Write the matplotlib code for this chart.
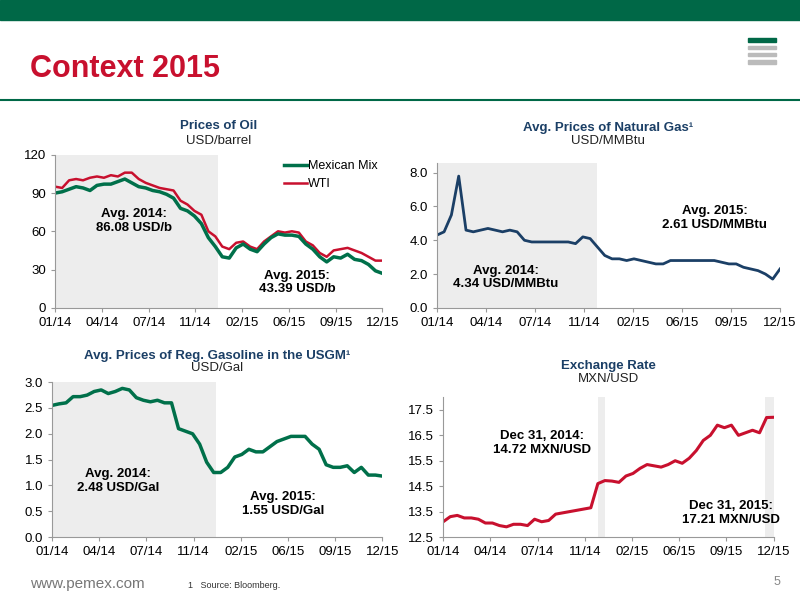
import matplotlib
matplotlib.use("Agg")
import matplotlib.pyplot as plt
import numpy as np

plt.rcParams['font.family'] = ['Liberation Sans', 'DejaVu Sans']

tick_labels = ["01/14", "04/14", "07/14", "11/14", "02/15", "06/15", "09/15", "12/15"]

mexican_mix = [90, 91, 93, 95, 94, 92, 96, 97, 97, 99, 101, 98, 95, 94, 92, 91, 89, 86, 78, 76, 72, 66, 55, 48,
               40, 39, 47, 50, 46, 44, 50, 55, 58, 57, 57, 56, 50, 46, 40, 36, 40, 39, 42, 38, 37, 34, 29, 27]
wti = [95, 94, 100, 101, 100, 102, 103, 102, 104, 103, 106, 106, 101, 98, 96, 94, 93, 92, 84, 81, 76, 73, 60, 56,
       48, 46, 51, 52, 48, 46, 52, 56, 60, 59, 60, 59, 52, 49, 43, 40, 45, 46, 47, 45, 43, 40, 37, 37]
natural_gas = [4.3, 4.5, 5.5, 7.8, 4.6, 4.5, 4.6, 4.7, 4.6, 4.5, 4.6, 4.5, 4.0, 3.9, 3.9, 3.9, 3.9, 3.9, 3.9, 3.8,
               4.2, 4.1, 3.6, 3.1, 2.9, 2.9, 2.8, 2.9, 2.8, 2.7, 2.6, 2.6, 2.8, 2.8, 2.8, 2.8, 2.8, 2.8, 2.8, 2.7,
               2.6, 2.6, 2.4, 2.3, 2.2, 2.0, 1.7, 2.3]
gasoline = [2.55, 2.58, 2.6, 2.72, 2.72, 2.75, 2.82, 2.85, 2.78, 2.82, 2.88, 2.85, 2.70, 2.65, 2.62, 2.65, 2.60, 2.6,
            2.1, 2.05, 2.0, 1.8, 1.45, 1.25, 1.25, 1.35, 1.55, 1.6, 1.7, 1.65, 1.65, 1.75, 1.85, 1.9, 1.95, 1.95,
            1.95, 1.8, 1.7, 1.4, 1.35, 1.35, 1.38, 1.25, 1.35, 1.2, 1.2, 1.18]
exchange = [13.1, 13.3, 13.35, 13.25, 13.25, 13.2, 13.05, 13.05, 12.95, 12.9, 13.0, 13.0, 12.95, 13.2, 13.1, 13.15,
            13.4, 13.45, 13.5, 13.55, 13.6, 13.65, 14.6, 14.72, 14.7, 14.65, 14.9, 15.0, 15.2, 15.35, 15.3, 15.25,
            15.35, 15.5, 15.4, 15.6, 15.9, 16.3, 16.5, 16.9, 16.8, 16.9, 16.5, 16.6, 16.7, 16.6, 17.2, 17.21]

GREEN = "#00704A"
RED = "#C8102E"
NAVY = "#1B3F66"
SHADE = "#EDEDED"

n = len(mexican_mix)
x = np.linspace(0, 23.3, n)
ticks = np.linspace(0, 23.3, 8)

fig = plt.figure(figsize=(8, 6), dpi=100)
fig.patches.append(plt.Rectangle((0, 0.967), 1, 0.033, transform=fig.transFigure, color="#006847"))
fig.add_artist(plt.Line2D([0, 1], [0.833, 0.833], color="#006847", lw=1.5, transform=fig.transFigure))
fig.text(0.037, 0.872, "Context 2015", color=RED, fontsize=22, fontweight="bold")
fig.text(0.037, 0.02, "www.pemex.com", color="#777777", fontsize=11)
fig.text(0.235, 0.02, "1   Source: Bloomberg.", color="#333333", fontsize=6.5)
fig.text(0.975, 0.025, "5", color="#888888", fontsize=9, ha="right")
for i in range(4):
    fig.add_artist(plt.Rectangle((0.935, 0.93 - i * 0.012), 0.035, 0.006, transform=fig.transFigure,
                                 color="#006847" if i == 0 else "#BBBBBB"))

def style(ax, ylim, yt, fmt):
    ax.set_xlim(0, 23.3)
    ax.set_ylim(*ylim)
    ax.set_yticks(yt)
    ax.set_yticklabels([fmt.format(v) for v in yt])
    ax.set_xticks(ticks)
    ax.set_xticklabels(tick_labels)
    for s in ["top", "right"]:
        ax.spines[s].set_visible(False)
    for s in ["left", "bottom"]:
        ax.spines[s].set_color("#999999")
    ax.tick_params(labelsize=9.5, length=3, color="#999999")

# Oil
ax1 = fig.add_axes([0.069, 0.487, 0.409, 0.255])
ax1.axvspan(0, 11.6, color=SHADE, lw=0)
ax1.plot(x, wti, color=RED, lw=1.8, label="WTI")
ax1.plot(x, mexican_mix, color=GREEN, lw=2.5, label="Mexican Mix")
style(ax1, (0, 120), [0, 30, 60, 90, 120], "{:.0f}")
h, l = ax1.get_legend_handles_labels()
ax1.legend(h[::-1], l[::-1], loc="upper right", frameon=False, fontsize=9, handlelength=1.8,
           handletextpad=0.1, bbox_to_anchor=(1.02, 1.04))
ax1.text(0.24, 0.5, "Avg. 2014:\n86.08 USD/b", transform=ax1.transAxes, ha="center", fontweight="bold", fontsize=9.5)
ax1.text(0.74, 0.1, "Avg. 2015:\n43.39 USD/b", transform=ax1.transAxes, ha="center", fontweight="bold", fontsize=9.5)
ax1.text(0.5, 1.17, "Prices of Oil", transform=ax1.transAxes, ha="center", color=NAVY, fontsize=9.5, fontweight="bold")
ax1.text(0.5, 1.07, "USD/barrel", transform=ax1.transAxes, ha="center", color="#222222", fontsize=9.5)

# Natural gas
ax2 = fig.add_axes([0.546, 0.487, 0.429, 0.242])
ax2.axvspan(0, 10.9, color=SHADE, lw=0)
ax2.plot(x, natural_gas, color=NAVY, lw=2)
style(ax2, (0, 8.6), [0, 2, 4, 6, 8], "{:.1f}")
ax2.text(0.2, 0.14, "Avg. 2014:\n4.34 USD/MMBtu", transform=ax2.transAxes, ha="center", fontweight="bold", fontsize=9.5)
ax2.text(0.81, 0.55, "Avg. 2015:\n2.61 USD/MMBtu", transform=ax2.transAxes, ha="center", fontweight="bold", fontsize=9.5)
ax2.text(0.5, 1.22, "Avg. Prices of Natural Gas¹", transform=ax2.transAxes, ha="center", color=NAVY, fontsize=9.5, fontweight="bold")
ax2.text(0.5, 1.13, "USD/MMBtu", transform=ax2.transAxes, ha="center", color="#222222", fontsize=9.5)

# Gasoline
ax3 = fig.add_axes([0.065, 0.105, 0.413, 0.258])
ax3.axvspan(0, 11.6, color=SHADE, lw=0)
ax3.plot(x, gasoline, color=GREEN, lw=2.5)
style(ax3, (0, 3.0), [0, 0.5, 1.0, 1.5, 2.0, 2.5, 3.0], "{:.1f}")
ax3.text(0.2, 0.3, "Avg. 2014:\n2.48 USD/Gal", transform=ax3.transAxes, ha="center", fontweight="bold", fontsize=9.5)
ax3.text(0.7, 0.15, "Avg. 2015:\n1.55 USD/Gal", transform=ax3.transAxes, ha="center", fontweight="bold", fontsize=9.5)
ax3.text(0.5, 1.15, "Avg. Prices of Reg. Gasoline in the USGM¹", transform=ax3.transAxes, ha="center", color=NAVY, fontsize=9.5, fontweight="bold")
ax3.text(0.5, 1.07, "USD/Gal", transform=ax3.transAxes, ha="center", color="#222222", fontsize=9.5)

# Exchange rate
ax4 = fig.add_axes([0.554, 0.105, 0.413, 0.233])
ax4.axvspan(10.9, 11.4, color=SHADE, lw=0)
ax4.axvspan(22.7, 23.3, color=SHADE, lw=0)
ax4.plot(x, exchange, color=RED, lw=2.2)
style(ax4, (12.5, 18.0), [12.5, 13.5, 14.5, 15.5, 16.5, 17.5], "{:.1f}")
ax4.text(0.3, 0.6, "Dec 31, 2014:\n14.72 MXN/USD", transform=ax4.transAxes, ha="center", fontweight="bold", fontsize=9.5)
ax4.text(0.87, 0.1, "Dec 31, 2015:\n17.21 MXN/USD", transform=ax4.transAxes, ha="center", fontweight="bold", fontsize=9.5)
ax4.text(0.5, 1.2, "Exchange Rate", transform=ax4.transAxes, ha="center", color=NAVY, fontsize=9.5, fontweight="bold")
ax4.text(0.5, 1.11, "MXN/USD", transform=ax4.transAxes, ha="center", color="#222222", fontsize=9.5)

fig.savefig("out.png", dpi=100)
